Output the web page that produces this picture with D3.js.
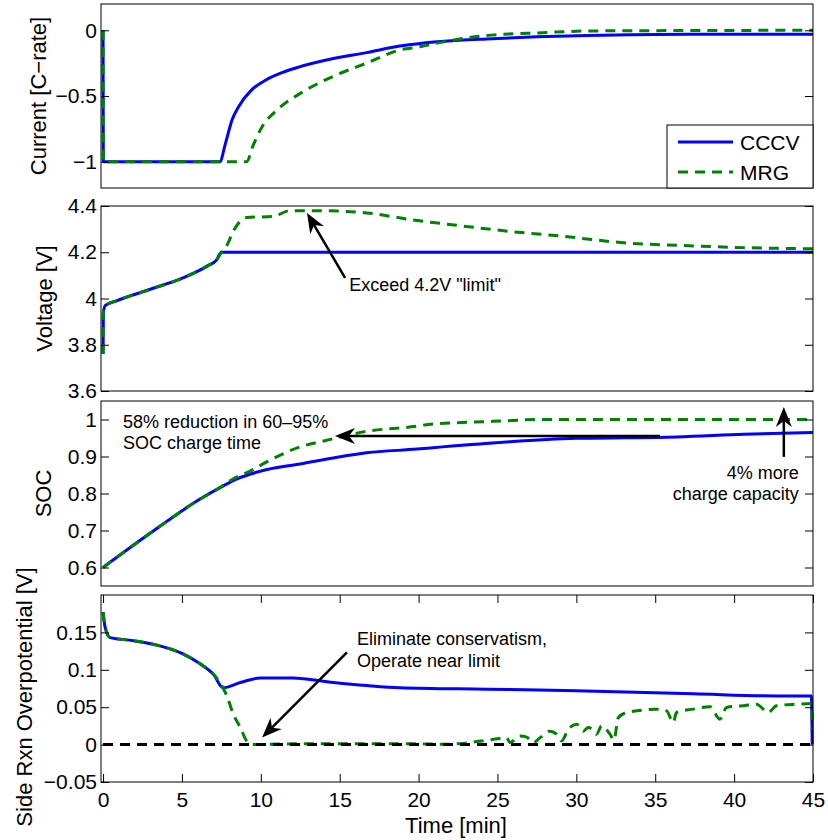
<!DOCTYPE html>
<html>
<head>
<meta charset="utf-8">
<script src="https://cdn.jsdelivr.net/npm/d3@7"></script>
<style>
body { margin: 0; background: #fff; }
text { font-family: "Liberation Sans", Arial, sans-serif; }
</style>
</head>
<body>
<svg id="chart" width="828" height="840"></svg>
<script>
// values (time in minutes)
const curTimeCCCV = [0, 0.02, 7.4, 7.76, 8.18, 8.6, 9.45, 10.3, 11.4, 12.4, 14.6, 16.7, 18.8, 20.1, 22.6, 24.3, 27.5, 30.7, 37, 45];
const curCCCV     = [0, -1, -1, -0.86, -0.68, -0.58, -0.45, -0.38, -0.32, -0.28, -0.215, -0.17, -0.12, -0.1, -0.076, -0.066, -0.05, -0.04, -0.03, -0.03];
const curTimeMRG  = [0, 0.02, 9.1, 9.5, 10.1, 11, 12.5, 14.6, 16.7, 18.8, 20.1, 21.5, 24, 27.9, 30.9, 45];
const curMRG      = [0, -1, -1, -0.88, -0.73, -0.61, -0.48, -0.35, -0.25, -0.15, -0.125, -0.09, -0.043, -0.018, -0.005, 0];

const voltTimeCCCV = [0, 0.02, 0.15, 0.85, 3, 5.1, 6.6, 7.2, 7.5, 45];
const voltCCCV     = [3.76, 3.94, 3.97, 3.99, 4.04, 4.09, 4.14, 4.167, 4.2, 4.2];
const voltTimeMRG  = [0, 0.02, 0.15, 0.85, 3, 5.1, 6.6, 7.2, 7.5, 7.85, 8.25, 9.1, 10.8, 11.85, 13.5, 16.7, 19.6, 22.6, 25.8, 29, 33.2, 36.4, 40.6, 45];
const voltMRG      = [3.76, 3.94, 3.97, 3.99, 4.04, 4.09, 4.14, 4.167, 4.2, 4.23, 4.29, 4.35, 4.355, 4.38, 4.38, 4.37, 4.34, 4.315, 4.29, 4.27, 4.24, 4.23, 4.22, 4.215];

const socTimeCCCV = [0, 3, 6.15, 7.5, 8.25, 9.3, 10.4, 12.5, 14.6, 16.7, 19.9, 21.5, 25.8, 30, 36.4, 40.6, 45];
const socCCCV     = [0.6, 0.693, 0.785, 0.818, 0.835, 0.852, 0.865, 0.88, 0.896, 0.91, 0.92, 0.926, 0.94, 0.949, 0.953, 0.96, 0.965];
const socTimeMRG  = [0, 3, 6.15, 7.5, 8.25, 9.3, 10.4, 12.5, 14, 16.7, 19.9, 20.5, 24.7, 27.9, 45];
const socMRG      = [0.6, 0.693, 0.785, 0.818, 0.84, 0.86, 0.886, 0.926, 0.942, 0.968, 0.982, 0.986, 0.995, 1.0, 1.0];

const sideTimeCCCV = [0, 0.13, 0.45, 1.9, 3.6, 5.1, 6.15, 7, 7.6, 8.7, 9.95, 12, 14.6, 16.7, 18.8, 24.3, 30, 37.4, 42.7, 44.9, 44.95];
const sideCCCV     = [0.177, 0.157, 0.143, 0.139, 0.132, 0.121, 0.108, 0.094, 0.076, 0.083, 0.089, 0.089, 0.083, 0.079, 0.076, 0.074, 0.072, 0.068, 0.065, 0.065, 0];
const sideTimeMRG  = [0, 0.13, 0.45, 1.9, 3.6, 5.1, 6.15, 7, 7.6, 7.85, 8.25, 8.7, 9.1, 9.5, 12, 16, 20,
                      21.57, 22.62, 23.68, 24.74, 25.58, 25.79, 26.43, 26.85, 27.27, 27.69, 28.33, 28.75, 29.07, 29.49,
                      30.02, 30.44, 30.76, 31.07, 31.28, 31.6, 32.13, 32.38, 32.66, 33.19, 34.24, 34.98, 35.72, 36.14,
                      36.35, 37.41, 38.47, 39.1, 39.52, 40.58, 41.42, 42.16, 42.69, 44.06, 44.91, 44.95];
const sideMRG      = [0.177, 0.157, 0.143, 0.139, 0.132, 0.121, 0.108, 0.094, 0.076, 0.065, 0.041, 0.023, 0.005, 0, 0.001, 0.001, 0.001,
                      0.0004, 0.0013, 0.004, 0.007, 0.009, 0.0027, 0.0116, 0.010, 0.0027, 0.009, 0.018, 0.0139, 0.005, 0.0206,
                      0.0273, 0.018, 0.0228, 0.019, 0.0139, 0.025, 0.0139, 0.006, 0.036, 0.0429, 0.046, 0.0474, 0.0451, 0.0296,
                      0.0429, 0.0474, 0.0506, 0.034, 0.0497, 0.052, 0.0541, 0.0429, 0.052, 0.0541, 0.055, 0.02];
const sideLimitTime = [0, 45];
const sideLimit     = [0, 0];

const timeTicks = [0, 5, 10, 15, 20, 25, 30, 35, 40, 45];
const curTicks  = [-1, -0.5, 0];
const voltTicks = [3.6, 3.8, 4, 4.2, 4.4];
const socTicks  = [0.6, 0.7, 0.8, 0.9, 1];
const sideTicks = [-0.05, 0, 0.05, 0.1, 0.15];

const seriesNames = ["CCCV", "MRG"];

const blue = "#0000ff", green = "#008000";
const dash = "10,7";
const left = 101, right = 813;

const svg = d3.select("#chart");
const x = d3.scaleLinear().domain([-0.13, 45]).range([left, right]);

const panels = [
  {top: 4,   bottom: 188, domain: [-1.2, 0.2],  ticks: curTicks,  label: "Current [C\u2212rate]", lx: 38,
   lines: [[curTimeCCCV, curCCCV, blue, null], [curTimeMRG, curMRG, green, dash]]},
  {top: 206, bottom: 391, domain: [3.6, 4.4],   ticks: voltTicks, label: "Voltage [V]", lx: 44,
   lines: [[voltTimeCCCV, voltCCCV, blue, null], [voltTimeMRG, voltMRG, green, dash]]},
  {top: 401, bottom: 586, domain: [0.55, 1.05], ticks: socTicks,  label: "SOC", lx: 43,
   lines: [[socTimeCCCV, socCCCV, blue, null], [socTimeMRG, socMRG, green, dash]]},
  {top: 595, bottom: 782, domain: [-0.05, 0.2], ticks: sideTicks, label: "Side Rxn Overpotential [V]", lx: 24, ly: 697,
   lines: [[sideTimeCCCV, sideCCCV, blue, null], [sideTimeMRG, sideMRG, green, dash], [sideLimitTime, sideLimit, "#000", dash]]}
];

function styleAxis(g) {
  g.select(".domain").remove();
  g.attr("font-size", 21).attr("font-family", "'Liberation Sans', Arial, sans-serif");
  g.selectAll(".tick line").attr("stroke", "#000");
  g.selectAll(".tick text").attr("fill", "#000");
}

panels.forEach((p, i) => {
  const y = d3.scaleLinear().domain(p.domain).range([p.bottom, p.top]);
  p.y = y;
  const g = svg.append("g");

  g.append("rect")
      .attr("x", left).attr("y", p.top)
      .attr("width", right - left).attr("height", p.bottom - p.top)
      .attr("fill", "#fff");

  const line = d3.line()
      .x(d => x(d[0]))
      .y(d => y(d[1]))
      .curve(d3.curveMonotoneX);

  p.lines.forEach(([ts, vs, col, da]) => {
    g.append("path")
        .datum(ts.map((t, k) => [t, vs[k]]))
        .attr("d", line)
        .attr("fill", "none")
        .attr("stroke", col)
        .attr("stroke-width", 3)
        .attr("stroke-dasharray", da);
  });

  g.append("g")
      .attr("transform", `translate(${left},0)`)
      .call(d3.axisLeft(y).tickValues(p.ticks).tickSizeInner(-8).tickSizeOuter(0).tickPadding(4).tickFormat(d3.format("")))
      .call(styleAxis);
  g.append("g")
      .attr("transform", `translate(${right},0)`)
      .call(d3.axisRight(y).tickValues(p.ticks).tickSizeInner(-8).tickSizeOuter(0).tickFormat(""))
      .call(styleAxis);

  if (i == panels.length - 1) {
    g.append("g")
        .attr("transform", `translate(0,${p.bottom})`)
        .call(d3.axisBottom(x).tickValues(timeTicks).tickSizeInner(-8).tickSizeOuter(0).tickPadding(10).tickFormat(d3.format("")))
        .call(styleAxis);
    g.append("g")
        .attr("transform", `translate(0,${p.top})`)
        .call(d3.axisTop(x).tickValues(timeTicks).tickSizeInner(-8).tickSizeOuter(0).tickFormat(""))
        .call(styleAxis);
  }

  g.append("rect")
      .attr("x", left).attr("y", p.top)
      .attr("width", right - left).attr("height", p.bottom - p.top)
      .attr("fill", "none").attr("stroke", "#000").attr("stroke-width", 1);

  g.append("text")
      .attr("transform", `translate(${p.lx},${p.ly || (p.top + p.bottom) / 2}) rotate(-90)`)
      .attr("text-anchor", "middle")
      .attr("dy", "0.35em")
      .attr("font-size", 22)
      .text(p.label);
});

svg.append("text")
    .attr("x", 456).attr("y", 833)
    .attr("text-anchor", "middle")
    .attr("font-size", 22)
    .text("Time [min]");

// legend
const leg = svg.append("g");
leg.append("rect")
    .attr("x", 667).attr("y", 125).attr("width", right - 667).attr("height", 63)
    .attr("fill", "#fff").attr("stroke", "#000").attr("stroke-width", 1);
[[blue, null], [green, dash]].forEach(([col, da], k) => {
  const ly = 142 + k * 30;
  leg.append("line")
      .attr("x1", 678).attr("x2", 733).attr("y1", ly).attr("y2", ly)
      .attr("stroke", col).attr("stroke-width", 3).attr("stroke-dasharray", da);
  leg.append("text")
      .attr("x", 740).attr("y", ly).attr("dy", "0.36em")
      .attr("font-size", 21)
      .text(seriesNames[k]);
});

// annotations: [panel, tail t, tail v, tip t, tip v]
const arrows = [
  [1, 15.34, 4.089, 12.93, 4.37],
  [2, 35.3, 0.9556, 14.7, 0.9556],
  [2, 43.15, 0.899, 43.15, 1.034],
  [3, 15.46, 0.1233, 10.08, 0.0094]
];
// [panel, t, v, anchor, text]
const notes = [
  [1, 15.6, 4.058, "start", "Exceed 4.2V \"limit\""],
  [2, 1.27, 0.9935, "start", "58% reduction in 60\u201395%"],
  [2, 1.27, 0.9366, "start", "SOC charge time"],
  [2, 44.1, 0.857, "end", "4% more"],
  [2, 44.1, 0.80, "end", "charge capacity"],
  [3, 16.1, 0.1417, "start", "Eliminate conservatism,"],
  [3, 16.1, 0.112, "start", "Operate near limit"]
];

const ann = svg.append("g");
arrows.forEach(([pi, t1, v1, t2, v2]) => {
  const y = panels[pi].y;
  const x1 = x(t1), y1 = y(v1), x2 = x(t2), y2 = y(v2);
  const a = Math.atan2(y2 - y1, x2 - x1);
  const L = 20, W = 8, N = 6;
  const c = Math.cos(a), s = Math.sin(a);
  const bx = x2 - L * c, by = y2 - L * s;
  const nx = x2 - (L - N) * c, ny = y2 - (L - N) * s;
  ann.append("line")
      .attr("x1", x1).attr("y1", y1).attr("x2", nx).attr("y2", ny)
      .attr("stroke", "#000").attr("stroke-width", 2.5);
  ann.append("polygon")
      .attr("points", [[x2, y2], [bx - W * s, by + W * c], [nx, ny], [bx + W * s, by - W * c]].map(q => q.join(",")).join(" "))
      .attr("fill", "#000");
});
notes.forEach(([pi, t, v, anchor, txt]) => {
  ann.append("text")
      .attr("x", x(t)).attr("y", panels[pi].y(v))
      .attr("dy", "0.35em")
      .attr("text-anchor", anchor)
      .attr("font-size", 18)
      .text(txt);
});
</script>
</body>
</html>
